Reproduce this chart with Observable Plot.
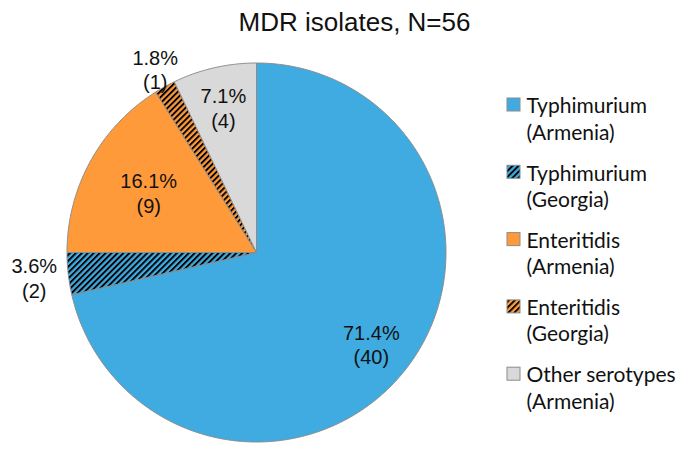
<!DOCTYPE html>
<html>
<head>
<meta charset="utf-8">
<script src="https://cdn.jsdelivr.net/npm/d3@7"></script>
<script src="https://cdn.jsdelivr.net/npm/@observablehq/plot@0.6"></script>
<style>
  html, body { margin: 0; padding: 0; background: #fff; }
</style>
</head>
<body>
<div id="chart"></div>
<script>
// ---- data ----
const title = "MDR isolates, N=56";
const categories = ["Typhimurium (Armenia)", "Typhimurium (Georgia)", "Enteritidis (Armenia)", "Enteritidis (Georgia)", "Other serotypes (Armenia)"];
const legendLabels = ["Typhimurium\n(Armenia)", "Typhimurium\n(Georgia)", "Enteritidis\n(Armenia)", "Enteritidis\n(Georgia)", "Other serotypes\n(Armenia)"];
const counts = [40, 2, 9, 1, 4];
const fills = ["#3FABE1", "url(#hatch-blue)", "#FF9A3B", "url(#hatch-orange)", "#D9D9D9"];
const labelRadius = [0.775, 1.18, 0.65, 1.105, 0.785];

// ---- layout ----
const W = 692, H = 454;
const cx = 256, cy = 252, R = 189.5;

const total = d3.sum(counts);
const arcs = d3.pie().sort(null).value(d => d)(counts);

// slice outlines (polygon vertices derived from the data angles)
const slicePts = [];
arcs.forEach((a, i) => {
  const n = Math.max(2, Math.ceil((a.endAngle - a.startAngle) / (Math.PI / 360)));
  slicePts.push({k: i, x: cx, y: cy, fill: fills[i]});
  for (let j = 0; j <= n; j++) {
    const t = a.startAngle + (a.endAngle - a.startAngle) * j / n;
    slicePts.push({k: i, x: cx + R * Math.sin(t), y: cy - R * Math.cos(t), fill: fills[i]});
  }
  slicePts.push({k: i, x: cx, y: cy, fill: fills[i]});
});

const labels = arcs.map((a, i) => {
  const m = (a.startAngle + a.endAngle) / 2;
  const r = R * labelRadius[i];
  return {
    x: cx + r * Math.sin(m),
    y: cy - r * Math.cos(m),
    text: `${(counts[i] / total * 100).toFixed(1)}%\n(${counts[i]})`
  };
});

const legend = categories.map((c, i) => ({
  i, name: c, label: legendLabels[i], fill: fills[i],
  y: 98 + 67.3 * i
}));

const svg = Plot.plot({
  width: W,
  height: H,
  margin: 0,
  x: {domain: [0, W], range: [0, W], axis: null},
  y: {domain: [0, H], range: [0, H], axis: null},
  color: {type: "identity"},
  style: {background: "#fff", fontFamily: "'Liberation Sans', Arial, sans-serif"},
  marks: [
    Plot.line(slicePts, {x: "x", y: "y", z: "k", fill: "fill", stroke: "#8C8C8C", strokeWidth: 1, strokeLinejoin: "round"}),
    Plot.text(labels, {x: "x", y: "y", text: "text", fontSize: 20, lineHeight: 1.23, fill: "#111", lineAnchor: "middle", fontFamily: "'Liberation Sans', Arial, sans-serif"}),
    Plot.text([title], {x: 354, y: 30, text: d => d, fontSize: 26, fill: "#111", lineAnchor: "bottom", fontFamily: "'Liberation Sans', Arial, sans-serif"}),
    Plot.rect(legend, {x1: 507, x2: 520, y1: "y", y2: d => d.y + 13, fill: "fill", stroke: "#8C8C8C", strokeWidth: 1}),
    Plot.text(legend, {x: 526, y: d => d.y + 41, text: "label", textAnchor: "start", lineAnchor: "bottom", fontSize: 21, lineHeight: 1.25, fill: "#111", fontFamily: "Lato, 'Open Sans', sans-serif"})
  ]
});

const defs = `<defs>
  <pattern id="hatch-blue" patternUnits="userSpaceOnUse" width="4.2" height="10" patternTransform="rotate(45)">
    <rect x="0" y="0" width="4.2" height="10" fill="#3FABE1"></rect>
    <rect x="0" y="0" width="1.9" height="10" fill="#000"></rect>
  </pattern>
  <pattern id="hatch-orange" patternUnits="userSpaceOnUse" width="4.2" height="10" patternTransform="rotate(45)">
    <rect x="0" y="0" width="4.2" height="10" fill="#FF9A3B"></rect>
    <rect x="0" y="0" width="1.9" height="10" fill="#000"></rect>
  </pattern>
</defs>`;
svg.insertAdjacentHTML("afterbegin", defs);
document.getElementById("chart").appendChild(svg);
</script>
</body>
</html>
